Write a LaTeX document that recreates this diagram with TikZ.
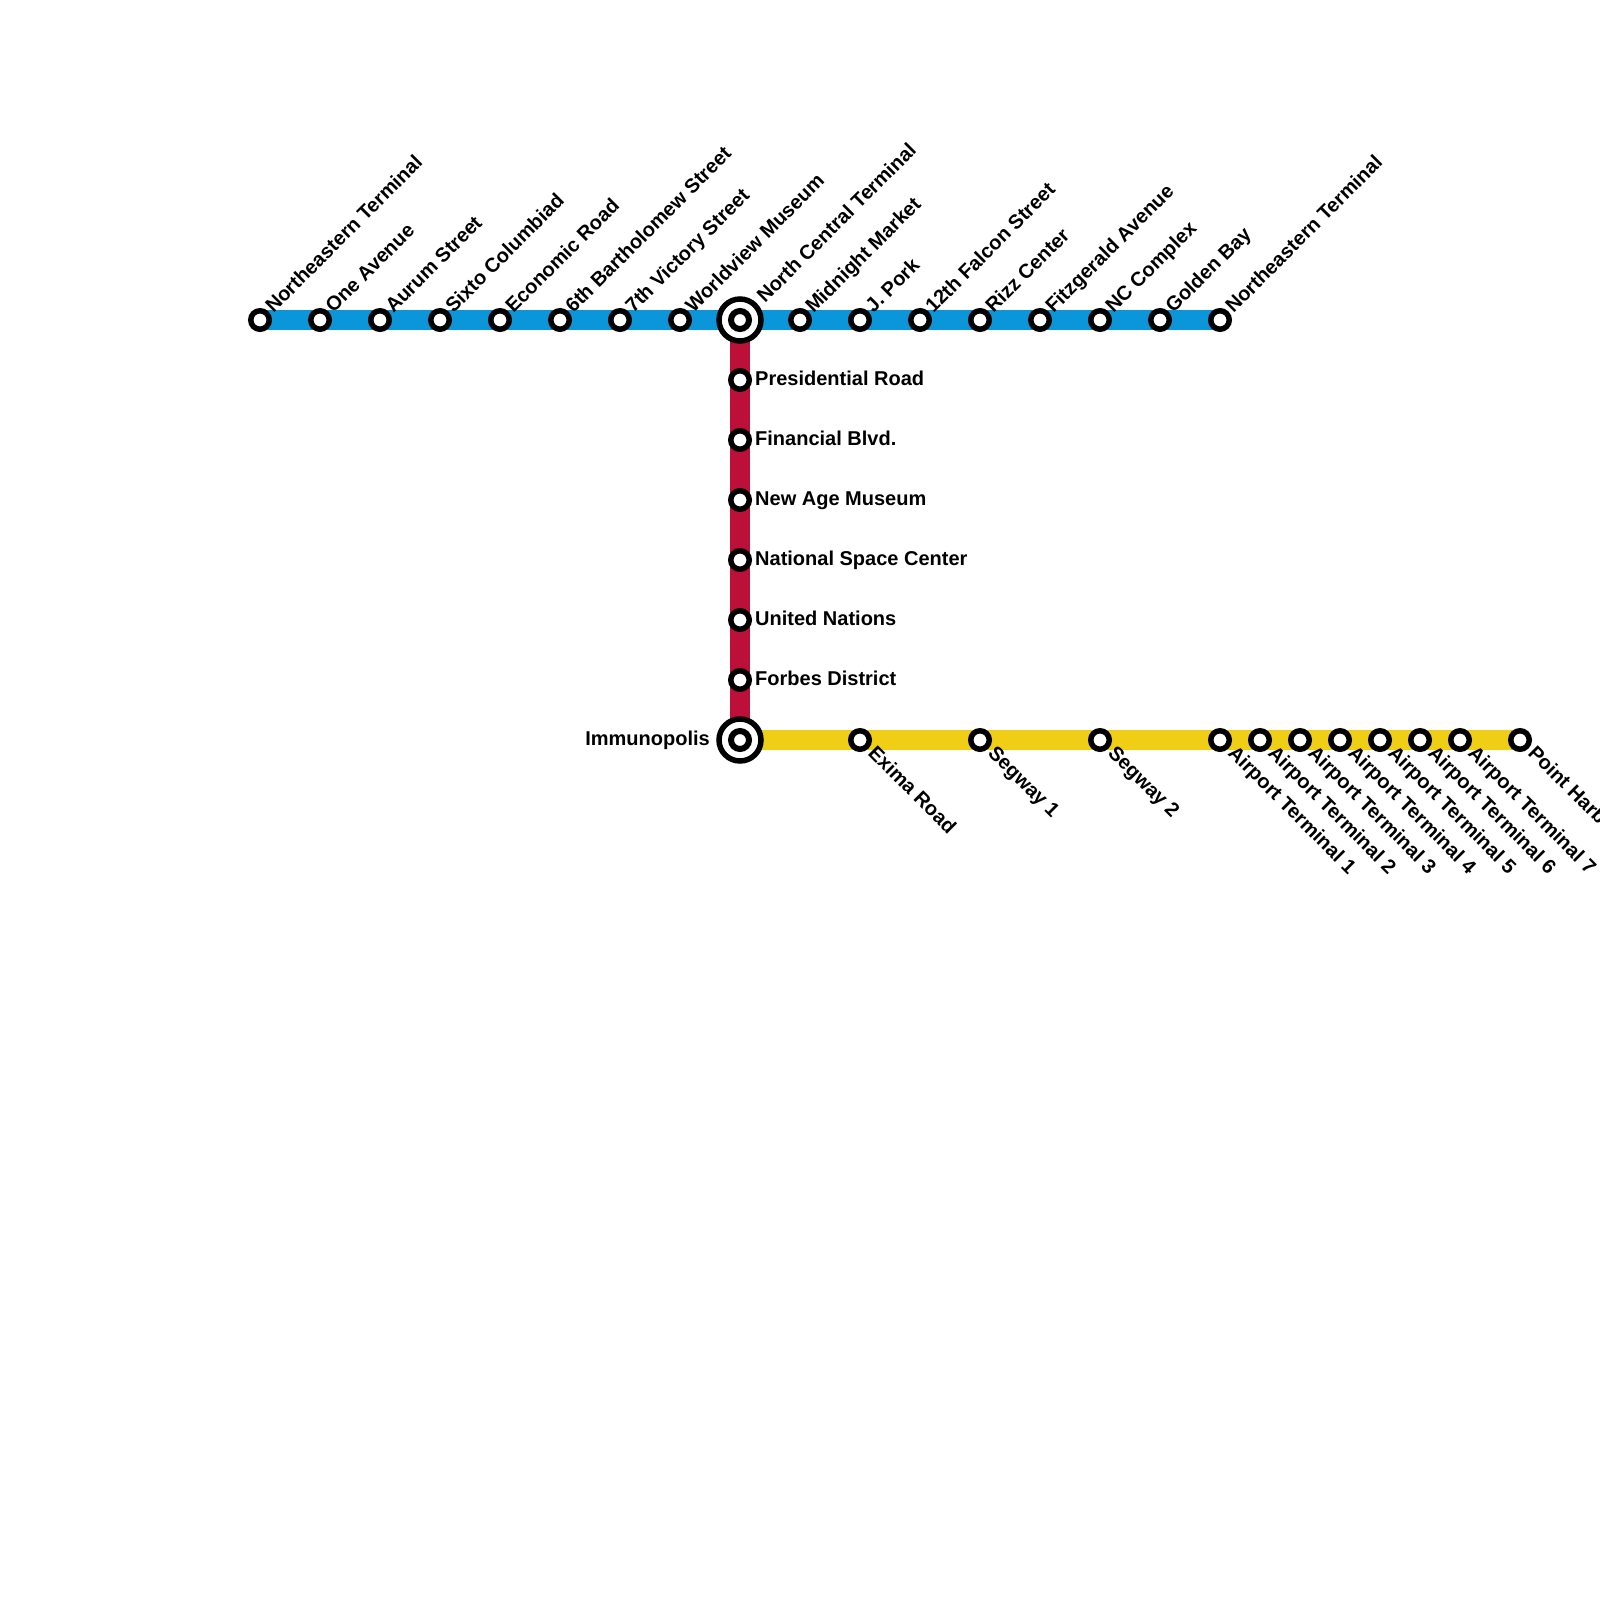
\documentclass[tikz,border=0pt]{standalone}
\usepackage{fontspec}
\setmainfont{Liberation Sans}
\definecolor{lineblue}{HTML}{0A96D8}
\definecolor{linered}{HTML}{BD1038}
\definecolor{lineyellow}{HTML}{F0CE15}
\tikzset{
  routeline/.style={line width=20pt,line cap=butt},
  station/.style={circle,draw=black,fill=white,line width=5.5pt,minimum size=18.5pt,inner sep=0pt,outer sep=0pt},
  hubinner/.style={circle,draw=black,fill=white,line width=6pt,minimum size=18pt,inner sep=0pt,outer sep=0pt},
  hubouter/.style={circle,draw=black,fill=white,line width=5.5pt,minimum size=42pt,inner sep=0pt,outer sep=0pt},
  stationlabel/.style={font=\bfseries\fontsize{20pt}{22pt}\selectfont,inner sep=0pt,text=black},
  upl/.style={stationlabel,rotate=45,anchor=base west},
  downl/.style={stationlabel,rotate=-45,anchor=base west},
  rightl/.style={stationlabel,anchor=base west},
  leftl/.style={stationlabel,anchor=base east}
}
\begin{document}
\begin{tikzpicture}[x=1pt,y=-1pt]
\useasboundingbox (0,0) rectangle (1600,1600);
\coordinate (bstart) at (260,320);
\coordinate (bhub) at (740,320);
\coordinate (bend) at (1220,320);
\coordinate (rhub) at (740,740);
\coordinate (yend) at (1520,740);
\draw[routeline,linered] (bhub) -- (rhub);
\draw[routeline,lineblue] (bstart) -- (bend);
\draw[routeline,lineyellow] (rhub) -- (yend);
\foreach \n/\x/\t in {b1/260/Northeastern Terminal,b2/320/One Avenue,b3/380/Aurum Street,b4/440/Sixto Columbiad,b5/500/Economic Road,b6/560/6th Bartholomew Street,b7/620/7th Victory Street,b8/680/Worldview Museum,b10/800/Midnight Market,b11/860/J. Pork,b12/920/12th Falcon Street,b13/980/Rizz Center,b14/1040/Fitzgerald Avenue,b15/1100/NC Complex,b16/1160/Golden Bay,b17/1220/Northeastern Terminal}{
  \node[station] (\n) at (\x,320) {};
  \node[upl] (\n-l) at (\x+13.5,320-6) {\t};
}
\foreach \n/\y/\t in {r1/380/Presidential Road,r2/440/Financial Blvd.,r3/500/New Age Museum,r4/560/National Space Center,r5/620/United Nations,r6/680/Forbes District}{
  \node[station] (\n) at (740,\y) {};
  \node[rightl] (\n-l) at (755,\y+5) {\t};
}
\foreach \n/\x/\t in {y1/860/Exima Road,y2/980/Segway 1,y3/1100/Segway 2,y4/1220/Airport Terminal 1,y5/1260/Airport Terminal 2,y6/1300/Airport Terminal 3,y7/1340/Airport Terminal 4,y8/1380/Airport Terminal 5,y9/1420/Airport Terminal 6,y10/1460/Airport Terminal 7,y11/1520/Point Harbor}{
  \node[station] (\n) at (\x,740) {};
  \node[downl] (\n-l) at (\x+7,740+14) {\t};
}
\node[hubouter] (hub1) at (bhub) {};
\node[hubinner] (hub1i) at (bhub) {};
\node[upl] (hub1-l) at (765,304) {North Central Terminal};
\node[hubouter] (hub2) at (rhub) {};
\node[hubinner] (hub2i) at (rhub) {};
\node[leftl] (hub2-l) at (710,745) {Immunopolis};
\end{tikzpicture}
\end{document}
